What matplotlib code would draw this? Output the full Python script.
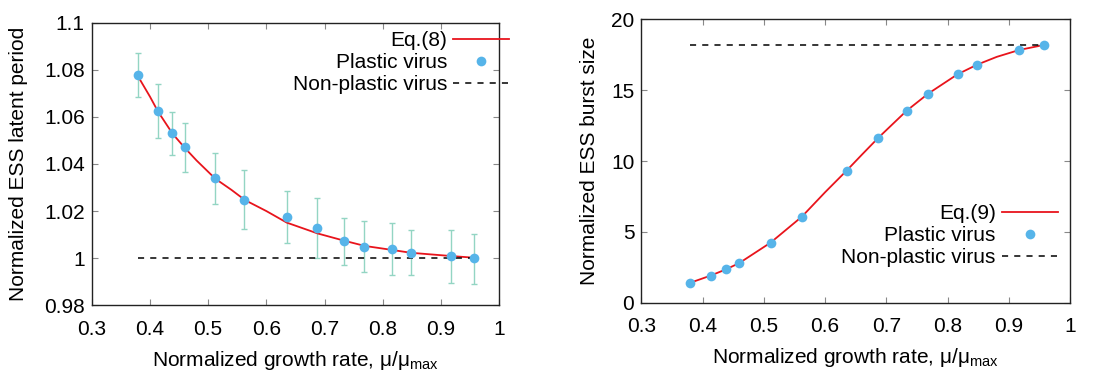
import numpy as np
import matplotlib
matplotlib.use("Agg")
import matplotlib.pyplot as plt
from matplotlib.ticker import FormatStrFormatter

plt.rcParams['font.family'] = ['Liberation Sans', 'DejaVu Sans']
plt.rcParams['mathtext.fontset'] = 'custom'
plt.rcParams['mathtext.rm'] = 'Liberation Sans'
plt.rcParams['mathtext.it'] = 'Liberation Sans:italic'

# growth rate of the simulated (plastic) virus points
mu = [0.380, 0.413, 0.438, 0.460, 0.511, 0.562, 0.635, 0.687,
      0.733, 0.768, 0.816, 0.848, 0.917, 0.957]

# latent period (left panel)
latent = [1.0776, 1.0624, 1.0530, 1.0471, 1.0339, 1.0248, 1.0175, 1.0128,
          1.0072, 1.0049, 1.0038, 1.0022, 1.0009, 1.0000]
latent_hi = [1.0870, 1.0738, 1.0622, 1.0575, 1.0448, 1.0373, 1.0285, 1.0254,
             1.0169, 1.0156, 1.0148, 1.0121, 1.0121, 1.0104]
latent_lo = [1.0683, 1.0509, 1.0438, 1.0364, 1.0229, 1.0122, 1.0063, 0.9999,
             0.9970, 0.9940, 0.9927, 0.9927, 0.9893, 0.9889]

# Eq.(8) curve
eq8_x = [0.380, 0.400, 0.414, 0.439, 0.460, 0.480, 0.512, 0.540, 0.563,
         0.600, 0.635, 0.688, 0.734, 0.769, 0.816, 0.848, 0.918, 0.957]
eq8_y = [1.0770, 1.0686, 1.0622, 1.0528, 1.0468, 1.0415, 1.0338, 1.0290, 1.0247,
         1.0200, 1.0151, 1.0105, 1.0074, 1.0052, 1.0035, 1.0023, 1.0009, 1.0002]

# burst size (right panel)
burst = [1.41, 1.91, 2.35, 2.80, 4.24, 6.07, 9.32, 11.65,
         13.55, 14.75, 16.12, 16.80, 17.84, 18.19]

# Eq.(9) curve
eq9_x = [0.380, 0.413, 0.438, 0.460, 0.511, 0.562, 0.600, 0.635, 0.660, 0.687,
         0.733, 0.768, 0.816, 0.848, 0.880, 0.917, 0.957]
eq9_y = [1.41, 1.91, 2.35, 2.80, 4.24, 6.07, 7.80, 9.32, 10.45, 11.65,
         13.55, 14.75, 16.12, 16.80, 17.35, 17.84, 18.19]

# non-plastic virus reference
nonplastic_x = [0.380, 0.957]
nonplastic_latent = [1.0, 1.0]
nonplastic_burst = [18.19, 18.19]

red = '#e8141c'
blue = '#56b4e9'
errc = '#93d5c3'
fs = 15

fig = plt.figure(figsize=(11.12, 3.75), dpi=100)
ax1 = fig.add_axes([0.0825, 0.1859, 0.3665, 0.7536])
ax2 = fig.add_axes([0.5767, 0.1928, 0.3858, 0.7557])


def style(ax):
    ax.tick_params(direction='in', length=4, width=0.8, color='#888888',
                   top=True, right=True, labelsize=fs)
    ax.tick_params(axis='x', pad=10.5)
    ax.tick_params(axis='y', pad=5)
    for s in ax.spines.values():
        s.set_linewidth(1.0)
        s.set_color('#222222')
    ax.set_xlim(0.3, 1.0)
    ax.set_xticks(np.arange(0.3, 1.01, 0.1))
    ax.xaxis.set_major_formatter(FormatStrFormatter('%g'))
    ax.yaxis.set_major_formatter(FormatStrFormatter('%g'))
    ax.set_xlabel('Normalized growth rate, μ/μ$_{\\rm max}$', fontsize=fs)


# left: latent period
yerr = [np.array(latent) - np.array(latent_lo), np.array(latent_hi) - np.array(latent)]
ax1.errorbar(mu, latent, yerr=yerr, fmt='none', ecolor=errc, elinewidth=1.0,
             capsize=2.5, capthick=1.0, zorder=1)
l1, = ax1.plot(eq8_x, eq8_y, color=red, lw=1.3, zorder=2)
p1, = ax1.plot(mu, latent, 'o', color=blue, ms=7, mec='none', zorder=3)
d1, = ax1.plot(nonplastic_x, nonplastic_latent, color='black', lw=1.1,
               linestyle=(0, (4, 4)), zorder=2)
style(ax1)
ax1.set_ylim(0.98, 1.1)
ax1.set_yticks(np.arange(0.98, 1.1001, 0.02))
ax1.set_ylabel('Normalized ESS latent period', fontsize=fs)
ax1.yaxis.set_label_coords(-0.156, 0.5)
ax1.xaxis.set_label_coords(0.5, -0.155)
ax1.legend([l1, p1, d1], ['Eq.(8)', 'Plastic virus', 'Non-plastic virus'],
           loc='upper right', bbox_to_anchor=(1.025, 0.97), frameon=False,
           markerfirst=False, fontsize=fs, handlelength=2.7, handletextpad=0.3,
           labelspacing=0.15, borderaxespad=0, borderpad=0)

# right: burst size
l2, = ax2.plot(eq9_x, eq9_y, color=red, lw=1.3, zorder=2)
p2, = ax2.plot(mu, burst, 'o', color=blue, ms=7, mec='none', zorder=3)
d2, = ax2.plot(nonplastic_x, nonplastic_burst, color='black', lw=1.1,
               linestyle=(0, (4, 4)), zorder=2)
style(ax2)
ax2.set_ylim(0, 20)
ax2.set_yticks([0, 5, 10, 15, 20])
ax2.set_ylabel('Normalized ESS burst size', fontsize=fs)
ax2.yaxis.set_label_coords(-0.099, 0.5)
ax2.xaxis.set_label_coords(0.5, -0.153)
ax2.legend([l2, p2, d2], ['Eq.(9)', 'Plastic virus', 'Non-plastic virus'],
           loc='lower right', bbox_to_anchor=(0.972, 0.125), frameon=False,
           markerfirst=False, fontsize=fs, handlelength=2.7, handletextpad=0.3,
           labelspacing=0.15, borderaxespad=0, borderpad=0)

fig.savefig('out.png', dpi=100)
